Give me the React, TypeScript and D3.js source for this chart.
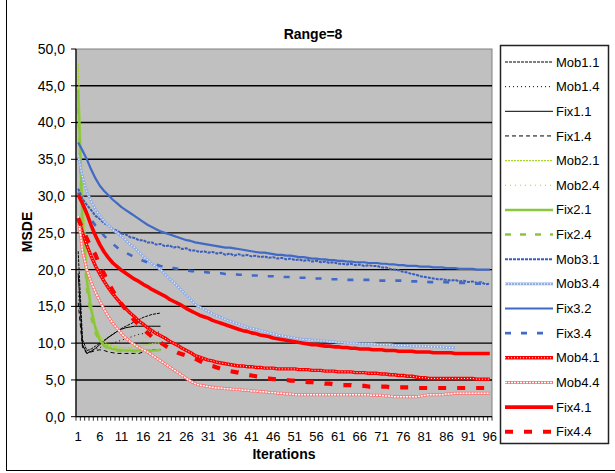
import React from "react";
import * as d3 from "d3";

const categories: number[] = d3.range(1, 97);
const xTickLabels = ["1","6","11","16","21","26","31","36","41","46","51","56","61","66","71","76","81","86","91","96"];
const yTicks = [0, 5, 10, 15, 20, 25, 30, 35, 40, 45, 50];
const yTickLabels = ["0,0","5,0","10,0","15,0","20,0","25,0","30,0","35,0","40,0","45,0","50,0"];
const seriesNames = ["Mob1.1","Mob1.4","Fix1.1","Fix1.4","Mob2.1","Mob2.4","Fix2.1","Fix2.4","Mob3.1","Mob3.4","Fix3.2","Fix3.4","Mob4.1","Mob4.4","Fix4.1","Fix4.4"];

const mob11 = [22.5,10.5,9.0,9.2,9.6,10.0,10.4,10.8,11.2,11.6,12.0,12.3,12.6,12.9,13.2,13.5,13.7,13.9,14.0,14.1];
const mob14 = [17.0,9.6,8.8,9.0,9.2,9.4,9.6,9.8,10.0,10.2,10.4,10.6,10.8,11.0,11.2,11.3,11.4,11.5,11.5,11.5];
const fix11 = [19.5,9.8,8.6,8.9,9.3,9.8,10.3,10.8,11.2,11.6,11.9,12.1,12.2,12.3,12.3,12.3,12.3,12.3,12.3,12.3];
const fix14 = [15.5,9.4,8.6,8.8,9.0,9.1,9.0,8.8,8.7,8.6,8.6,8.6,8.6,8.6,8.6,8.8,9.0,9.1,9.1,9.1];
const mob21 = [48.0,31.0,21.0,15.5,12.5,11.0,10.2,9.8,9.6,9.5,9.4,9.4,9.4,9.5,9.6,9.7,9.8,9.9,10.0,10.0];
const mob24 = [46.0,29.0,19.5,14.5,12.0,10.7,10.0,9.6,9.4,9.3,9.2,9.2,9.3,9.5,9.8,10.3,11.0,11.6,11.4,10.3];
const fix21 = [44.5,26.0,18.5,14.5,12.0,10.4,9.7,9.4,9.2,9.1,9.0,9.0,9.0,9.0,9.0,9.0,9.0,9.0,9.0,9.1];
const fix24 = [42.0,25.0,17.5,13.5,11.4,10.2,9.6,9.3,9.1,9.0,8.9,8.9,8.9,8.9,8.9,8.9,8.9,8.9,8.9,8.9];
const mob31 = [31.0,29.6,28.8,28.1,27.3,26.9,26.3,26.0,25.5,25.3,24.9,24.8,24.4,24.3,24.0,24.0,23.7,23.7,23.4,23.5,
  23.2,23.3,23.0,23.1,22.8,22.9,22.6,22.6,22.4,22.5,22.3,22.4,22.2,22.3,22.0,22.2,21.9,22.1,21.9,22.0,
  21.8,21.9,21.7,21.8,21.6,21.7,21.5,21.6,21.4,21.5,21.3,21.4,21.2,21.3,21.1,21.2,21.0,21.1,20.9,21.0,
  20.8,20.8,20.7,20.8,20.6,20.7,20.5,20.6,20.5,20.5,20.3,20.3,20.1,20.0,19.9,19.7,19.6,19.4,19.3,19.1,
  19.0,18.9,18.8,18.7,18.7,18.6,18.5,18.6,18.4,18.5,18.3,18.4,18.2,18.3,18.0,18.1];
const mob34 = [35.5,32.6,30.6,29.3,28.2,27.3,26.6,26.0,25.4,25.0,24.5,24.0,23.4,23.0,22.4,21.8,21.3,20.8,20.4,20.0,
  19.4,18.8,18.3,17.7,17.1,16.5,15.9,15.3,14.9,14.6,14.3,14.0,13.7,13.5,13.2,13.0,12.8,12.6,12.4,12.2,
  12.0,11.9,11.7,11.6,11.4,11.3,11.1,11.0,10.9,10.8,10.7,10.6,10.5,10.5,10.4,10.4,10.3,10.3,10.2,10.2,
  10.1,10.1,10.0,10.0,10.0,9.9,9.9,9.9,9.9,9.8,9.8,9.8,9.8,9.7,9.7,9.7,9.7,9.6,9.6,9.6,
  9.6,9.5,9.5,9.5,9.5,9.4,9.4,9.4];
const fix32 = [37.3,36.2,35.0,33.6,32.4,31.4,30.7,30.1,29.5,29.0,28.5,28.1,27.7,27.3,26.9,26.5,26.1,25.8,25.5,25.2,
  25.0,24.8,24.6,24.4,24.2,24.0,23.9,23.7,23.6,23.5,23.4,23.3,23.2,23.1,23.0,23.0,22.9,22.8,22.7,22.6,
  22.5,22.4,22.3,22.3,22.2,22.1,22.0,22.0,21.9,21.9,21.8,21.7,21.7,21.6,21.5,21.5,21.4,21.4,21.3,21.3,
  21.2,21.2,21.1,21.1,21.0,21.0,21.0,20.9,20.9,20.9,20.8,20.8,20.7,20.7,20.6,20.6,20.5,20.5,20.5,20.4,
  20.4,20.4,20.3,20.3,20.3,20.2,20.2,20.2,20.1,20.1,20.1,20.1,20.0,20.0,20.0,20.0];
const fix34 = [30.5,29.0,27.8,26.8,26.0,25.3,24.6,24.0,23.5,23.0,22.6,22.3,22.0,21.7,21.5,21.2,21.0,20.8,20.7,20.5,
  20.4,20.3,20.2,20.1,20.0,19.9,19.8,19.8,19.7,19.7,19.6,19.6,19.5,19.5,19.4,19.4,19.4,19.3,19.3,19.3,
  19.2,19.2,19.2,19.1,19.1,19.1,19.0,19.0,19.0,19.0,18.9,18.9,18.9,18.9,18.8,18.8,18.8,18.8,18.7,18.7,
  18.7,18.7,18.6,18.6,18.6,18.6,18.6,18.6,18.6,18.5,18.5,18.5,18.5,18.5,18.5,18.5,18.4,18.4,18.4,18.4,
  18.4,18.3,18.3,18.3,18.3,18.3,18.2,18.2,18.2,18.2,18.2,18.1,18.1,18.1,18.1,18.0];
const mob41 = [27.0,25.0,23.3,21.8,20.5,19.4,18.4,17.5,16.7,16.0,15.3,14.7,14.1,13.6,13.0,12.6,12.1,11.7,11.3,11.0,
  10.7,10.3,10.0,9.7,9.3,9.0,8.7,8.3,8.1,7.9,7.7,7.6,7.4,7.3,7.2,7.1,7.0,6.9,6.9,6.8,
  6.8,6.7,6.7,6.6,6.6,6.6,6.5,6.5,6.5,6.5,6.5,6.4,6.4,6.4,6.3,6.3,6.3,6.2,6.2,6.2,
  6.1,6.1,6.1,6.1,6.0,6.0,6.0,5.9,5.9,5.9,5.8,5.8,5.7,5.7,5.6,5.6,5.5,5.5,5.4,5.3,
  5.3,5.2,5.2,5.2,5.2,5.2,5.2,5.2,5.2,5.2,5.2,5.2,5.1,5.1,5.1,5.1];
const mob44 = [27.3,22.5,20.0,18.3,16.9,15.7,14.6,13.6,12.7,12.0,11.3,10.7,10.2,9.8,9.4,9.1,8.8,8.4,8.0,7.6,
  7.2,6.8,6.4,6.0,5.6,5.2,4.8,4.5,4.3,4.2,4.1,4.0,3.9,3.9,3.8,3.8,3.7,3.7,3.6,3.6,
  3.5,3.5,3.4,3.4,3.3,3.3,3.2,3.2,3.1,3.1,3.0,3.0,3.0,3.0,3.0,3.0,3.0,3.0,3.0,3.0,
  3.0,3.0,3.0,3.0,3.0,3.0,3.0,3.0,2.9,2.9,2.9,2.8,2.8,2.7,2.7,2.7,2.7,2.7,2.7,2.8,
  2.9,3.0,3.0,3.0,3.0,3.1,3.1,3.2,3.2,3.2,3.2,3.2,3.2,3.2,3.2,3.2];
const fix41 = [30.2,29.0,27.6,26.0,24.6,23.4,22.4,21.6,20.9,20.4,19.9,19.5,19.1,18.7,18.4,18.0,17.7,17.3,17.0,16.7,
  16.4,16.0,15.7,15.4,15.1,14.7,14.4,14.1,13.8,13.6,13.4,13.1,12.9,12.7,12.5,12.3,12.1,11.9,11.7,11.6,
  11.4,11.3,11.1,11.0,10.9,10.7,10.6,10.5,10.4,10.3,10.2,10.1,10.0,9.9,9.8,9.8,9.7,9.6,9.6,9.5,
  9.5,9.4,9.4,9.3,9.3,9.2,9.2,9.2,9.1,9.1,9.1,9.0,9.0,9.0,8.9,8.9,8.9,8.9,8.8,8.8,
  8.8,8.8,8.7,8.7,8.7,8.7,8.7,8.6,8.6,8.6,8.6,8.6,8.6,8.6,8.6,8.6];
const fix44 = [27.0,25.5,24.2,23.0,22.0,20.5,19.4,18.2,17.1,16.2,15.3,14.6,13.8,13.1,12.5,12.0,11.4,10.9,10.5,10.1,
  9.7,9.3,9.0,8.7,8.5,8.3,8.1,7.9,7.6,7.3,7.0,6.9,6.7,6.5,6.4,6.2,6.1,6.0,5.8,5.7,
  5.6,5.5,5.4,5.3,5.2,5.1,5.1,5.0,5.0,4.9,4.9,4.8,4.8,4.7,4.7,4.6,4.6,4.5,4.5,4.4,
  4.4,4.3,4.3,4.3,4.2,4.2,4.2,4.1,4.1,4.1,4.1,4.1,4.0,4.0,4.0,4.0,4.0,4.0,3.9,3.9,
  3.9,3.9,3.9,3.9,3.9,3.9,3.9,3.9,3.9,3.9,3.9,3.9,3.9,3.9,3.9,3.9];

const seriesValues = [mob11, mob14, fix11, fix14, mob21, mob24, fix21, fix24, mob31, mob34, fix32, fix34, mob41, mob44, fix41, fix44];

type Stroke = { color: string; width: number; dash?: string };
const seriesStyles: Stroke[][] = [
  [{ color: "#000", width: 1, dash: "3,1" }],
  [{ color: "#000", width: 1, dash: "1,3" }],
  [{ color: "#000", width: 1 }],
  [{ color: "#000", width: 1, dash: "4,3" }],
  [{ color: "#a6d22a", width: 1.2, dash: "2,1" }],
  [{ color: "#a6d22a", width: 1.2, dash: "1,4" }],
  [{ color: "#8cc63f", width: 2.5 }],
  [{ color: "#8cc63f", width: 2.5, dash: "6,9" }],
  [{ color: "#3a5dbd", width: 2, dash: "3,1" }],
  [{ color: "#94ade2", width: 2.8 }, { color: "#ffffff", width: 1.2, dash: "1,2" }],
  [{ color: "#4169c6", width: 2.2 }],
  [{ color: "#4169c6", width: 2.6, dash: "6,10" }],
  [{ color: "#ff0000", width: 3.4 }, { color: "#ffffff", width: 1, dash: "1,2" }],
  [{ color: "#ff7070", width: 3 }, { color: "#ffffff", width: 1.5, dash: "2,1" }],
  [{ color: "#ff0000", width: 3.6 }],
  [{ color: "#ff0000", width: 4.2, dash: "8,11" }],
];

const PL = 76, PR = 492, PT = 49, PB = 416.7;

export default function App() {
  const x = d3.scaleBand<number>().domain(categories).range([PL, PR]).paddingInner(0).paddingOuter(0);
  const bw = x.bandwidth();
  const cx = (c: number) => (x(c) as number) + bw / 2;
  const y = d3.scaleLinear().domain([0, 50]).range([PB, PT]);
  const line = d3.line<number>().x((_, i) => cx(categories[i])).y((d) => y(d));

  const legX0 = 505, legX1 = 553, legTextX = 556, legY0 = 62, legStep = 24.65;
  const font = "'Liberation Sans', Arial, sans-serif";

  return (
    <svg width={615} height={473} style={{ position: "absolute", left: 0, top: 0, background: "#fff" }}
      fontFamily={font}>
      <rect x={0} y={0} width={615} height={473} fill="#fff" />
      <line x1={6.5} y1={0} x2={6.5} y2={470.5} stroke="#000" strokeWidth={1} />
      <line x1={6} y1={470.5} x2={615} y2={470.5} stroke="#000" strokeWidth={1} />
      <rect x={PL} y={PT} width={PR - PL} height={PB - PT} fill="#c0c0c0" stroke="#808080" strokeWidth={1} />
      {yTicks.filter((t) => t > 0 && t < 50).map((t) => (
        <line key={t} x1={PL} x2={PR} y1={y(t)} y2={y(t)} stroke="#000" strokeWidth={1.4} />
      ))}
      {seriesValues.map((vals, si) => (
        <g key={si}>
          {seriesStyles[si].map((s, k) => (
            <path key={k} d={line(vals) || ""} fill="none" stroke={s.color} strokeWidth={s.width}
              strokeDasharray={s.dash} strokeLinejoin="round" />
          ))}
        </g>
      ))}
      <line x1={PL} x2={PL} y1={PT} y2={PB} stroke="#000" strokeWidth={1.2} />
      <line x1={PL} x2={PR} y1={PB} y2={PB} stroke="#000" strokeWidth={1.2} />
      {yTicks.map((t, i) => (
        <g key={t}>
          <line x1={PL - 5} x2={PL} y1={y(t)} y2={y(t)} stroke="#000" strokeWidth={1} />
          <text x={65} y={y(t)} dy="0.35em" textAnchor="end" fontSize={14} fill="#000">{yTickLabels[i]}</text>
        </g>
      ))}
      {categories.map((c) => (
        <line key={c} x1={x(c) as number} x2={x(c) as number} y1={PB} y2={PB + 4} stroke="#000" strokeWidth={0.8} />
      ))}
      <line x1={PR} x2={PR} y1={PB} y2={PB + 4} stroke="#000" strokeWidth={0.8} />
      {xTickLabels.map((l) => (
        <text key={l} x={cx(+l)} y={441} textAnchor="middle" fontSize={13} fill="#000">{l}</text>
      ))}
      <text x={313} y={39} textAnchor="middle" fontSize={14} fontWeight="bold">Range=8</text>
      <text x={284} y={458.5} textAnchor="middle" fontSize={14} fontWeight="bold">Iterations</text>
      <text transform="translate(32,232) rotate(-90)" textAnchor="middle" fontSize={14} fontWeight="bold">MSDE</text>
      <rect x={500.5} y={45.5} width={108} height={398} fill="#fff" stroke="#222" strokeWidth={1.5} />
      {seriesNames.map((n, si) => {
        const ly = legY0 + si * legStep;
        return (
          <g key={n}>
            {seriesStyles[si].map((s, k) => (
              <line key={k} x1={legX0} x2={legX1} y1={ly} y2={ly} stroke={s.color} strokeWidth={s.width}
                strokeDasharray={s.dash} />
            ))}
            <text x={legTextX} y={ly} dy="0.35em" fontSize={13} fill="#000">{n}</text>
          </g>
        );
      })}
    </svg>
  );
}
